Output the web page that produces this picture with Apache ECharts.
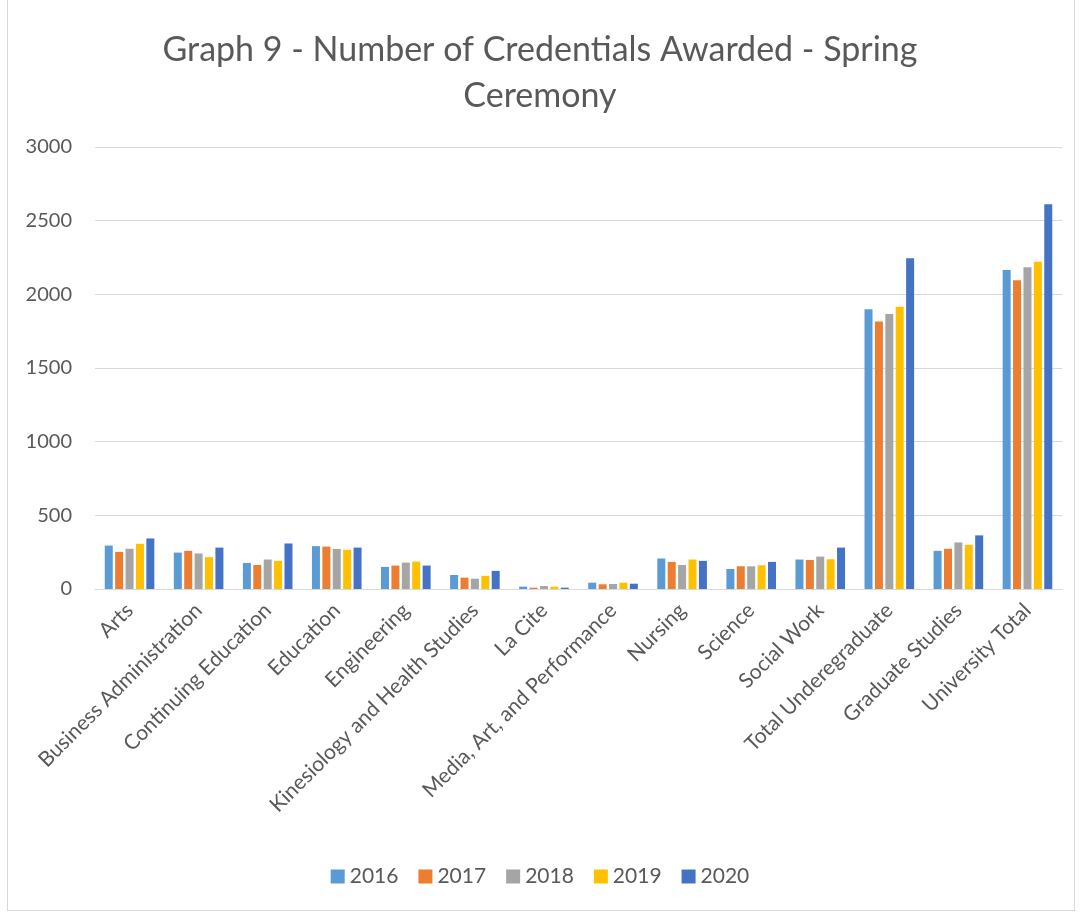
<!DOCTYPE html>
<html>
<head>
<meta charset="utf-8">
<script src="https://cdn.jsdelivr.net/npm/echarts@6/dist/echarts.min.js"></script>
<style>
  html, body { margin: 0; padding: 0; background: #fff; }
  #frame { position: absolute; left: 7px; top: -2px; width: 1068px; height: 913px; border: 1px solid #d9d9d9; box-sizing: border-box; }
  #chart { position: absolute; left: 0; top: 0; width: 1080px; height: 914px; }
</style>
</head>
<body>
<div id="frame"></div>
<div id="chart"></div>
<script>
// Faculties and totals on the category axis
const categories = [
  'Arts', 'Business Administration', 'Continuing Education', 'Education',
  'Engineering', 'Kinesiology and Health Studies', 'La Cite',
  'Media, Art, and Performance', 'Nursing', 'Science', 'Social Work',
  'Total Underegraduate', 'Graduate Studies', 'University Total'
];

// Credentials awarded per year
const y2016 = [295, 247, 177, 291, 150, 95, 16, 43, 207, 136, 200, 1898, 259, 2166];
const y2017 = [252, 259, 163, 288, 159, 77, 9, 32, 184, 154, 197, 1816, 273, 2096];
const y2018 = [273, 241, 200, 272, 179, 70, 20, 34, 163, 154, 220, 1866, 316, 2184];
const y2019 = [307, 216, 191, 266, 186, 89, 16, 43, 200, 161, 202, 1916, 300, 2221];
const y2020 = [343, 281, 309, 281, 159, 123, 9, 36, 191, 184, 281, 2245, 364, 2612];

const years = ['2016', '2017', '2018', '2019', '2020'];
const seriesValues = [y2016, y2017, y2018, y2019, y2020];
const colors = ['#5B9BD5', '#ED7D31', '#A5A5A5', '#FFC000', '#4472C4'];

const yTicks = [0, 500, 1000, 1500, 2000, 2500, 3000];

const FONT = 'Lato, "Open Sans", sans-serif';
const chart = echarts.init(document.getElementById('chart'), null, { renderer: 'canvas' });

chart.setOption({
  animation: false,
  color: colors,
  textStyle: { fontFamily: FONT, color: '#595959' },
  title: {
    text: 'Graph 9 - Number of Credentials Awarded - Spring\nCeremony',
    left: 'center',
    top: 22,
    textStyle: { fontFamily: FONT, fontSize: 34, fontWeight: 'normal', color: '#595959', lineHeight: 46 }
  },
  legend: {
    data: years,
    bottom: 22,
    left: 'center',
    itemWidth: 14,
    itemHeight: 14,
    itemGap: 20,
    icon: 'rect',
    textStyle: { fontFamily: FONT, fontSize: 21, color: '#595959' }
  },
  grid: { left: 95, right: 18, top: 147, bottom: 325, containLabel: false },
  xAxis: {
    type: 'category',
    data: categories,
    axisLine: { show: true, lineStyle: { color: '#d9d9d9', width: 1 } },
    axisTick: { show: false },
    axisLabel: {
      interval: 0,
      rotate: 45,
      margin: 18,
      fontFamily: FONT,
      fontSize: 21,
      color: '#595959'
    }
  },
  yAxis: {
    type: 'value',
    min: yTicks[0],
    max: yTicks[yTicks.length - 1],
    interval: yTicks[1] - yTicks[0],
    axisLine: { show: false },
    axisTick: { show: false },
    splitLine: { lineStyle: { color: '#d9d9d9', width: 1 } },
    axisLabel: {
      fontFamily: FONT, fontSize: 20, color: '#595959', margin: 23,
      formatter: v => String(v)
    }
  },
  series: years.map((name, i) => ({
    name: name,
    type: 'bar',
    data: seriesValues[i],
    barWidth: 8,
    barGap: '30%',
    itemStyle: { color: colors[i] }
  }))
});
</script>
</body>
</html>
